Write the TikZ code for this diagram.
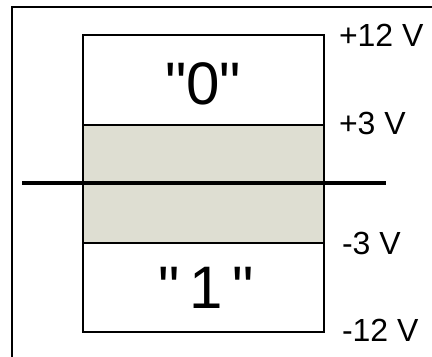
\documentclass[tikz,border=0pt]{standalone}
\usepackage{fontspec}
\setmainfont{Liberation Sans}
\definecolor{band}{RGB}{222,222,210}
\begin{document}
\begin{tikzpicture}[x=0.75pt,y=-0.75pt,line width=1.5pt,every node/.style={font=\fontsize{24}{26}\selectfont,inner sep=0pt}]
\useasboundingbox (0,0) rectangle (432,357);
\clip (0,0) rectangle (432,357);
\coordinate (TL) at (83,35);
\coordinate (TR) at (324,35);
\coordinate (BL) at (83,332);
\coordinate (BR) at (324,332);
\coordinate (HL) at (83,125);
\coordinate (HR) at (324,125);
\coordinate (LL) at (83,243);
\coordinate (LR) at (324,243);
\coordinate (ZL) at (22,183);
\coordinate (ZR) at (386,183);
\draw[line width=1.3pt] (12,7) rectangle (450,380);
\fill[band] (HL) rectangle (LR);
\draw[line width=0.9pt] (HL) -- (HR);
\draw[line width=0.9pt] (LL) -- (LR);
\draw[line width=1.8pt] (TL) rectangle (BR);
\draw[line width=2.4pt] (ZL) -- (ZR);
\node[font=\fontsize{45}{47}\selectfont] (zero) at (203,84) {\textquotedbl0\textquotedbl};
\node[font=\fontsize{45}{47}\selectfont] (one) at (206,288) {\textquotedbl\,1\,\textquotedbl};
\node[anchor=west] (p12) at (338,35) {+12 V};
\node[anchor=west] (p3) at (338,123) {+3 V};
\node[anchor=west] (m3) at (341,243) {-3 V};
\node[anchor=west] (m12) at (341,330) {-12 V};
\end{tikzpicture}
\end{document}
